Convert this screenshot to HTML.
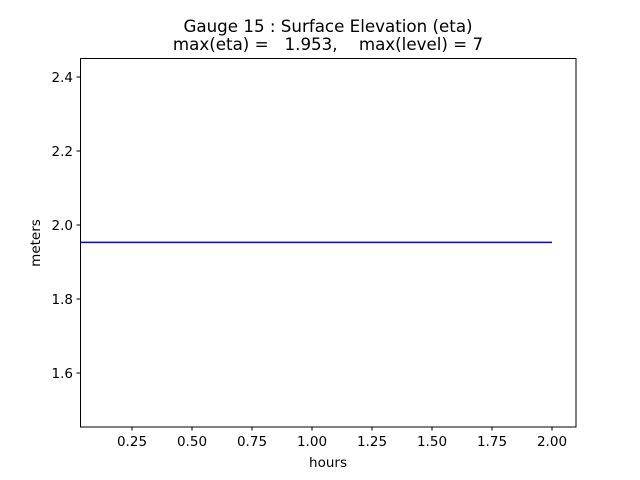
<!DOCTYPE html>
<html><head><meta charset="utf-8"><style>body{margin:0;background:#fff}svg{display:block}</style></head>
<body>
<svg width="640" height="480" xmlns="http://www.w3.org/2000/svg" font-family="DejaVu Sans, Liberation Sans, sans-serif">
<rect width="640" height="480" fill="#fff"/>
<text x="328" y="32" font-size="16.7" text-anchor="middle">Gauge 15 : Surface Elevation (eta)</text>
<text x="328" y="50" font-size="16.7" text-anchor="middle" xml:space="preserve">max(eta) =   1.953,    max(level) = 7</text>
<line x1="80" y1="242.4" x2="552" y2="242.4" stroke="#0000ff" stroke-width="1.5"/>
<rect x="80.5" y="58.5" width="495.5" height="368.5" fill="none" stroke="#000" stroke-width="1"/>
<g stroke="#000" stroke-width="1">
<line x1="132" y1="427" x2="132" y2="430.5"/><line x1="192" y1="427" x2="192" y2="430.5"/><line x1="252" y1="427" x2="252" y2="430.5"/><line x1="312" y1="427" x2="312" y2="430.5"/><line x1="372" y1="427" x2="372" y2="430.5"/><line x1="432" y1="427" x2="432" y2="430.5"/><line x1="492" y1="427" x2="492" y2="430.5"/><line x1="552" y1="427" x2="552" y2="430.5"/>
<line x1="76.5" y1="77" x2="80" y2="77"/><line x1="76.5" y1="151" x2="80" y2="151"/><line x1="76.5" y1="225" x2="80" y2="225"/><line x1="76.5" y1="299" x2="80" y2="299"/><line x1="76.5" y1="373" x2="80" y2="373"/>
</g>
<g font-size="13.5" text-anchor="middle">
<text x="132" y="446">0.25</text><text x="192" y="446">0.50</text><text x="252" y="446">0.75</text><text x="312" y="446">1.00</text><text x="372" y="446">1.25</text><text x="432" y="446">1.50</text><text x="492" y="446">1.75</text><text x="552" y="446">2.00</text>
<text x="328" y="467">hours</text>
</g>
<g font-size="13.5" text-anchor="end">
<text x="73" y="82">2.4</text><text x="73" y="156">2.2</text><text x="73" y="230">2.0</text><text x="73" y="304">1.8</text><text x="73" y="378">1.6</text>
</g>
<text transform="translate(40,243) rotate(-90)" font-size="13.5" text-anchor="middle">meters</text>
</svg>
</body></html>
